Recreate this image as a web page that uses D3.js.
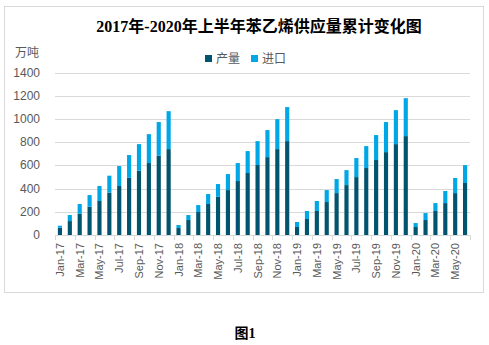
<!DOCTYPE html>
<html><head><meta charset="utf-8">
<script src="https://cdn.jsdelivr.net/npm/d3@7"></script>
<style>body{margin:0;background:#fff}svg{display:block}</style>
</head><body>
<svg id="c" width="489" height="345"></svg>
<script>
const months = ["Jan","Feb","Mar","Apr","May","Jun","Jul","Aug","Sep","Oct","Nov","Dec"];
const years = ["17","18","19","20"];
const categories = [];
years.forEach(y => months.forEach(m => { if (!(y === "20" && months.indexOf(m) > 5)) categories.push(m + "-" + y); }));
const production = [63,120,184,244,293,364,422,493,554,620,683,740,
  60,129,198,267,330,387,465,534,603,671,740,809,
  69,138,207,284,361,430,499,577,646,714,783,852,
  69,129,207,275,361,448];
const totals = [80,172,267,344,422,511,594,689,783,869,973,1067,
  86,172,258,353,439,525,620,723,809,904,998,1102,
  112,207,293,387,482,559,663,766,861,973,1076,1179,
  103,189,275,379,491,602];
const imports = totals.map((t,i) => t - production[i]);
const yTicks = [0,200,400,600,800,1000,1200,1400];
const seriesNames = ["产量","进口"];
const colors = ["#00546E","#00A7E6"];

const svg = d3.select("#c");
svg.append("rect").attr("x",4.5).attr("y",6.5).attr("width",479).attr("height",286)
  .attr("fill","#fff").attr("stroke","#D9D9D9");

const x = d3.scaleBand().domain(categories).range([55,470]).paddingInner(0.58).paddingOuter(0.29);
const y = d3.scaleLinear().domain([0,1400]).range([235,72.5]);

// gridlines
svg.append("g").selectAll("line").data(yTicks.slice(1)).join("line")
  .attr("x1",55).attr("x2",470).attr("y1",d=>Math.round(y(d))+0.5).attr("y2",d=>Math.round(y(d))+0.5)
  .attr("stroke","#D9D9D9");

// y labels
svg.append("g").selectAll("text").data(yTicks).join("text")
  .attr("x",40).attr("y",d=>y(d)+4).attr("text-anchor","end")
  .attr("font-family","Liberation Sans, Arial, sans-serif").attr("font-size",12).attr("fill","#595959")
  .text(d=>d);

// stacked bars
const rows = categories.map((c,i)=>({cat:c, p:production[i], m:imports[i]}));
const stack = d3.stack().keys(["p","m"])(rows);
svg.append("g").selectAll("g").data(stack).join("g").attr("fill",(d,i)=>colors[i])
  .selectAll("rect").data(d=>d).join("rect")
  .attr("x",d=>x(d.data.cat)).attr("width",x.bandwidth())
  .attr("y",d=>y(d[1])).attr("height",d=>y(d[0])-y(d[1]));

// x axis
const step = x.step();
svg.append("line").attr("x1",55).attr("x2",470).attr("y1",235.5).attr("y2",235.5).attr("stroke","#D9D9D9");
const tickIdx = d3.range(0, categories.length+1, 2);
svg.append("g").selectAll("line").data(tickIdx).join("line")
  .attr("x1",i=>Math.round(55+i*step)+0.5).attr("x2",i=>Math.round(55+i*step)+0.5)
  .attr("y1",235).attr("y2",240).attr("stroke","#D9D9D9");
svg.append("g").selectAll("text").data(categories.filter((c,i)=>i%2===0)).join("text")
  .attr("transform",d=>`translate(${x(d)+x.bandwidth()/2+4},243) rotate(-90)`)
  .attr("text-anchor","end")
  .attr("font-family","Liberation Sans, Arial, sans-serif").attr("font-size",11).attr("fill","#595959")
  .text(d=>d);

// title
svg.append("text").attr("x",259).attr("y",32).attr("text-anchor","middle")
  .attr("font-family","Liberation Serif, 'Noto Sans CJK SC', serif").attr("font-weight","bold").attr("font-size",16).attr("fill","#000")
  .text("2017年-2020年上半年苯乙烯供应量累计变化图");

// unit
svg.append("text").attr("x",15).attr("y",57)
  .attr("font-family","'Noto Sans CJK SC', sans-serif").attr("font-size",12).attr("fill","#595959").text("万吨");

// legend
const lg = svg.append("g");
const lx = [205,251];
seriesNames.forEach((n,i)=>{
  lg.append("rect").attr("x",lx[i]).attr("y",55).attr("width",7).attr("height",7).attr("fill",colors[i]);
  lg.append("text").attr("x",lx[i]+11).attr("y",63).attr("font-family","'Noto Sans CJK SC', sans-serif")
    .attr("font-size",12).attr("fill","#595959").text(n);
});

// caption
svg.append("text").attr("x",245).attr("y",338).attr("text-anchor","middle")
  .attr("font-family","Liberation Serif, 'Noto Sans CJK SC', serif").attr("font-weight","bold").attr("font-size",14).attr("fill","#000")
  .text("图1");
</script>
</body></html>
